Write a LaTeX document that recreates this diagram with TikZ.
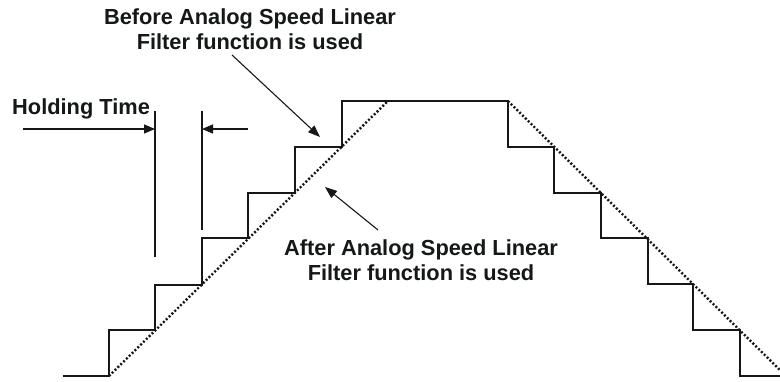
\documentclass[tikz,border=0pt]{standalone}
\usepackage{fontspec}
\setmainfont{Liberation Sans}
\usetikzlibrary{arrows.meta}
\definecolor{ink}{HTML}{141818}
\tikzset{
  stair/.style={draw=ink, line width=1.5pt, line join=miter},
  filt/.style={draw=ink, line width=2.4pt, dash pattern=on 2pt off 2pt},
  guide/.style={draw=ink, line width=1.4pt},
  dimarrow/.style={draw=ink, line width=1.4pt, -{Triangle[length=11pt,width=9pt]}},
  callout/.style={draw=ink, line width=1.1pt, -{Triangle[length=12pt,width=9pt]}},
  lbl/.style={text=ink, inner sep=0pt, font=\bfseries\fontsize{21.8}{25}\selectfont, align=center},
}
\begin{document}
\begin{tikzpicture}[x=1pt, y=-1pt]
\useasboundingbox (0,0) rectangle (780,382);
\clip (0,0) rectangle (780,382);

% stepped speed command
\path[stair] (63,376) -- (109,376) -- (109,330) -- (155,330) -- (155,285) -- (202,285)
  -- (202,238) -- (248,238) -- (248,193) -- (295,193) -- (295,147) -- (342,147)
  -- (342,101) -- (508,101) -- (508,147) -- (554,147) -- (554,193) -- (601,193)
  -- (601,238) -- (648,238) -- (648,284) -- (693,284) -- (693,330) -- (740,330)
  -- (740,376) -- (780,376);

% filtered (linear) speed
\coordinate (r0) at (109,376);
\coordinate (r1) at (388,101);
\coordinate (f0) at (508,101);
\coordinate (f1) at (786,376);
\path[filt] (r0) -- (r1);
\path[filt] (f0) -- (f1);

% holding time dimension
\coordinate (h1t) at (155,111);
\coordinate (h1b) at (155,257);
\coordinate (h2t) at (202,111);
\coordinate (h2b) at (202,230);
\path[guide] (h1t) -- (h1b);
\path[guide] (h2t) -- (h2b);
\coordinate (la) at (23,129);
\coordinate (lb) at (155,129);
\coordinate (ra) at (248,129);
\coordinate (rb) at (202,129);
\path[dimarrow] (la) -- (lb);
\path[dimarrow] (ra) -- (rb);

% labels
\node[lbl, anchor=base west] (hold) at (12,115) {Holding Time};
\node[lbl] (before) at (250,28.8) {Before Analog Speed Linear\\Filter function is used};
\node[lbl] (after) at (421,259.8) {After Analog Speed Linear\\Filter function is used};

% callouts
\coordinate (bt) at (232,55);
\coordinate (bh) at (320,137);
\coordinate (at) at (378,230);
\coordinate (ah) at (325,187);
\path[callout] (bt) -- (bh);
\path[callout] (at) -- (ah);
\end{tikzpicture}
\end{document}
